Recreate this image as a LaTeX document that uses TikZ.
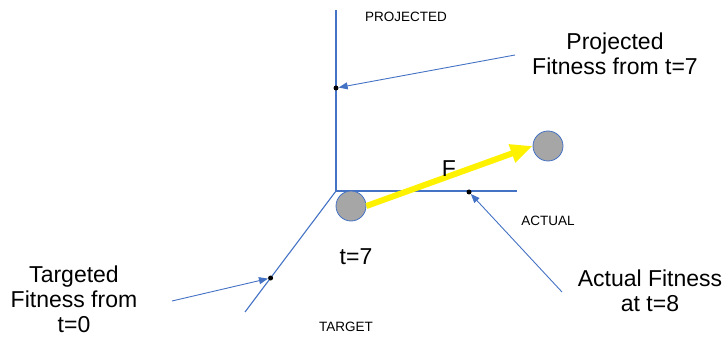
\documentclass[tikz,border=0pt]{standalone}
\usepackage{fontspec}
\setmainfont{Liberation Sans}
\usetikzlibrary{arrows.meta}
\definecolor{axisblue}{RGB}{68,114,196}
\definecolor{ballgray}{RGB}{166,166,166}
\begin{document}
\begin{tikzpicture}[x=1pt,y=-1pt,
  axisline/.style={draw=axisblue,line width=1.1pt},
  pointer/.style={draw=axisblue,line width=0.9pt,-{Triangle[length=9pt,width=7pt]}},
  dot/.style={circle,fill=black,minimum size=5pt,inner sep=0pt},
  ball/.style={circle,fill=ballgray,draw=axisblue,line width=0.8pt,minimum size=30pt,inner sep=0pt},
  biglabel/.style={font=\fontsize{23}{25}\selectfont,align=center,inner sep=0pt},
  axislabel/.style={font=\fontsize{13.5}{15}\selectfont,inner sep=0pt},
  force/.style={draw=yellow,line width=6pt,-{Triangle[length=22pt,width=18pt]}}]
\useasboundingbox (0,0) rectangle (728,339);
% axes
\coordinate (o) at (336,191);
\coordinate (ptop) at (336,10);
\coordinate (aend) at (517,191);
\coordinate (tend) at (245,312);
\draw[axisline] (ptop) -- (o) -- (aend);
\draw[axisline] (o) -- (tend);
% dots
\node[dot] (pdot) at (336,88) {};
\node[dot] (adot) at (469,192) {};
\node[dot] (tdot) at (270.6,278) {};
% balls
\node[ball] (b1) at (351,206) {};
\node[ball] (b2) at (548,146) {};
\draw[force] (b1.east) -- (b2.west);
% labels
\node[axislabel] (lproj) at (406,17) {PROJECTED};
\node[axislabel] (lact) at (548,220.5) {ACTUAL};
\node[axislabel] (ltarg) at (346,326.5) {TARGET};
\node[biglabel] (lf) at (449,168.5) {F};
\node[biglabel] (lt7) at (356,257) {t=7};
\node[biglabel] (lpf) at (615,54) {Projected\\Fitness from t=7};
\node[biglabel] (laf) at (650,290.5) {Actual Fitness\\at t=8};
\node[biglabel] (ltf) at (74,299.5) {Targeted\\Fitness from\\t=0};
% pointers
\coordinate (ps) at (515,55);
\coordinate (as) at (562,292);
\coordinate (ts) at (172,301);
\draw[pointer] (ps) -- (pdot);
\draw[pointer] (as) -- (adot);
\draw[pointer] (ts) -- (tdot);
\end{tikzpicture}
\end{document}
